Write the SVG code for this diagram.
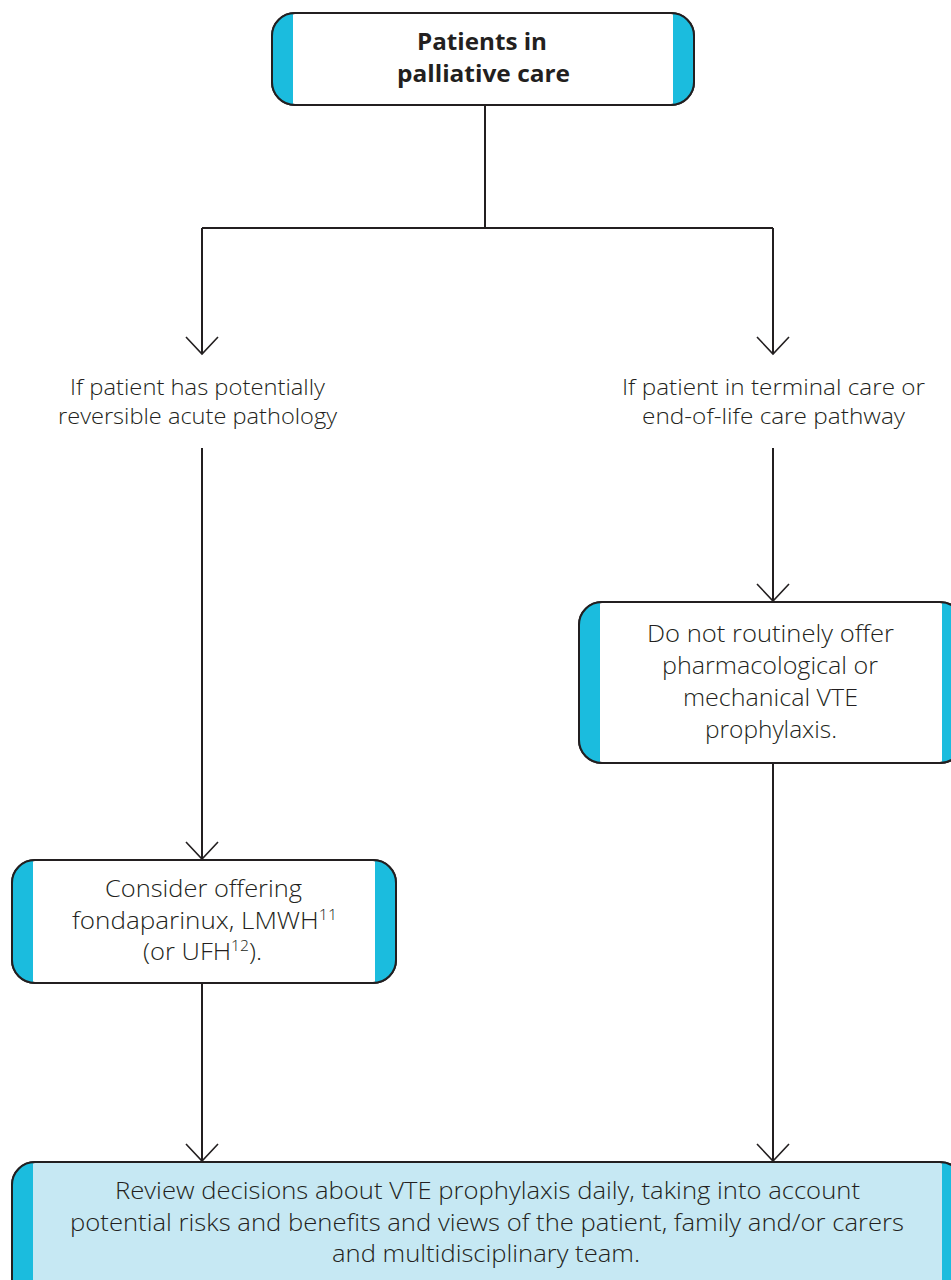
<svg xmlns="http://www.w3.org/2000/svg" width="951" height="1280" viewBox="0 0 951 1280">
  <style>
    .box { fill: #ffffff; stroke: #231f20; stroke-width: 2; }
    .boxb { fill: #c6e8f3; stroke: #231f20; stroke-width: 2; }
    .stripe { fill: #1bbcde; }
    .t { font-family: "Open Sans", "Liberation Sans", sans-serif; fill: #231f20; text-anchor: middle; font-weight: 300; }
    .lbl { font-size: 22px; }
    .bt { font-size: 24.5px; }
    .title { font-size: 24px; font-weight: 700; }
    .sup { font-size: 15px; }
    .conn { fill: none; stroke: #231f20; stroke-width: 2; }
  </style>
  <defs>
    <marker id="arr" markerUnits="userSpaceOnUse" markerWidth="40" markerHeight="40" refX="0" refY="0" orient="auto" overflow="visible">
      <path d="M-17,-16 L0,0 L-17,16" fill="none" stroke="#231f20" stroke-width="1.6"/>
    </marker>
    <clipPath id="c1"><rect x="272" y="13" width="422" height="92" rx="23" ry="23"/></clipPath>
    <clipPath id="c2"><rect x="579" y="602" width="384" height="161" rx="23" ry="23"/></clipPath>
    <clipPath id="c3"><rect x="12" y="860" width="384" height="123" rx="23" ry="23"/></clipPath>
    <clipPath id="c4"><rect x="12" y="1162" width="951" height="150" rx="23" ry="23"/></clipPath>
  </defs>

  <g id="connectors">
    <path class="conn" d="M485 105 V228"/>
    <path class="conn" d="M202 228 H773"/>
    <path class="conn" d="M202 228 V354" marker-end="url(#arr)"/>
    <path class="conn" d="M773 228 V354" marker-end="url(#arr)"/>
    <path class="conn" d="M202 448 V859" marker-end="url(#arr)"/>
    <path class="conn" d="M773 448 V601" marker-end="url(#arr)"/>
    <path class="conn" d="M202 983 V1161" marker-end="url(#arr)"/>
    <path class="conn" d="M773 763 V1161" marker-end="url(#arr)"/>
  </g>

  <g id="start">
    <rect class="box" x="272" y="13" width="422" height="92" rx="23" ry="23"/>
    <g clip-path="url(#c1)">
      <rect class="stripe" x="272" y="13" width="21" height="92"/>
      <rect class="stripe" x="673" y="13" width="21" height="92"/>
    </g>
    <rect x="272" y="13" width="422" height="92" rx="23" ry="23" fill="none" stroke="#231f20" stroke-width="2"/>
    <text class="t title" x="482" y="50" textLength="130" lengthAdjust="spacingAndGlyphs">Patients in</text>
    <text class="t title" x="483.5" y="82" textLength="173" lengthAdjust="spacingAndGlyphs">palliative care</text>
  </g>

  <g id="label-left">
    <text class="t lbl" x="197.5" y="395" textLength="255" lengthAdjust="spacingAndGlyphs">If patient has potentially</text>
    <text class="t lbl" x="197.5" y="424" textLength="279" lengthAdjust="spacingAndGlyphs">reversible acute pathology</text>
  </g>

  <g id="label-right">
    <text class="t lbl" x="773.5" y="395" textLength="303" lengthAdjust="spacingAndGlyphs">If patient in terminal care or</text>
    <text class="t lbl" x="773.5" y="424" textLength="263" lengthAdjust="spacingAndGlyphs">end-of-life care pathway</text>
  </g>

  <g id="no-prophylaxis">
    <rect class="box" x="579" y="602" width="384" height="161" rx="23" ry="23"/>
    <g clip-path="url(#c2)">
      <rect class="stripe" x="579" y="602" width="21" height="161"/>
      <rect class="stripe" x="942" y="602" width="21" height="161"/>
    </g>
    <rect x="579" y="602" width="384" height="161" rx="23" ry="23" fill="none" stroke="#231f20" stroke-width="2"/>
    <text class="t bt" x="770.5" y="642" textLength="247" lengthAdjust="spacingAndGlyphs">Do not routinely offer</text>
    <text class="t bt" x="770" y="674" textLength="216" lengthAdjust="spacingAndGlyphs">pharmacological or</text>
    <text class="t bt" x="770.5" y="706" textLength="175" lengthAdjust="spacingAndGlyphs">mechanical VTE</text>
    <text class="t bt" x="771" y="738" textLength="132" lengthAdjust="spacingAndGlyphs">prophylaxis.</text>
  </g>

  <g id="consider">
    <rect class="box" x="12" y="860" width="384" height="123" rx="23" ry="23"/>
    <g clip-path="url(#c3)">
      <rect class="stripe" x="12" y="860" width="21" height="123"/>
      <rect class="stripe" x="375" y="860" width="21" height="123"/>
    </g>
    <rect x="12" y="860" width="384" height="123" rx="23" ry="23" fill="none" stroke="#231f20" stroke-width="2"/>
    <text class="t bt" x="203.5" y="897" textLength="197" lengthAdjust="spacingAndGlyphs">Consider offering</text>
    <text class="t bt" x="204.5" y="929" textLength="265" lengthAdjust="spacingAndGlyphs">fondaparinux, LMWH<tspan class="sup" dy="-9">11</tspan></text>
    <text class="t bt" x="202.5" y="960" textLength="119" lengthAdjust="spacingAndGlyphs">(or UFH<tspan class="sup" dy="-9">12</tspan><tspan dy="9">).</tspan></text>
  </g>

  <g id="review">
    <rect class="boxb" x="12" y="1162" width="951" height="150" rx="23" ry="23"/>
    <g clip-path="url(#c4)">
      <rect class="stripe" x="12" y="1162" width="21" height="150"/>
      <rect class="stripe" x="942" y="1162" width="21" height="150"/>
    </g>
    <rect x="12" y="1162" width="951" height="150" rx="23" ry="23" fill="none" stroke="#231f20" stroke-width="2"/>
    <text class="t bt" x="487.5" y="1199" textLength="745" lengthAdjust="spacingAndGlyphs">Review decisions about VTE prophylaxis daily, taking into account</text>
    <text class="t bt" x="487" y="1231" textLength="834" lengthAdjust="spacingAndGlyphs">potential risks and benefits and views of the patient, family and/or carers</text>
    <text class="t bt" x="486" y="1262" textLength="308" lengthAdjust="spacingAndGlyphs">and multidisciplinary team.</text>
  </g>
</svg>
